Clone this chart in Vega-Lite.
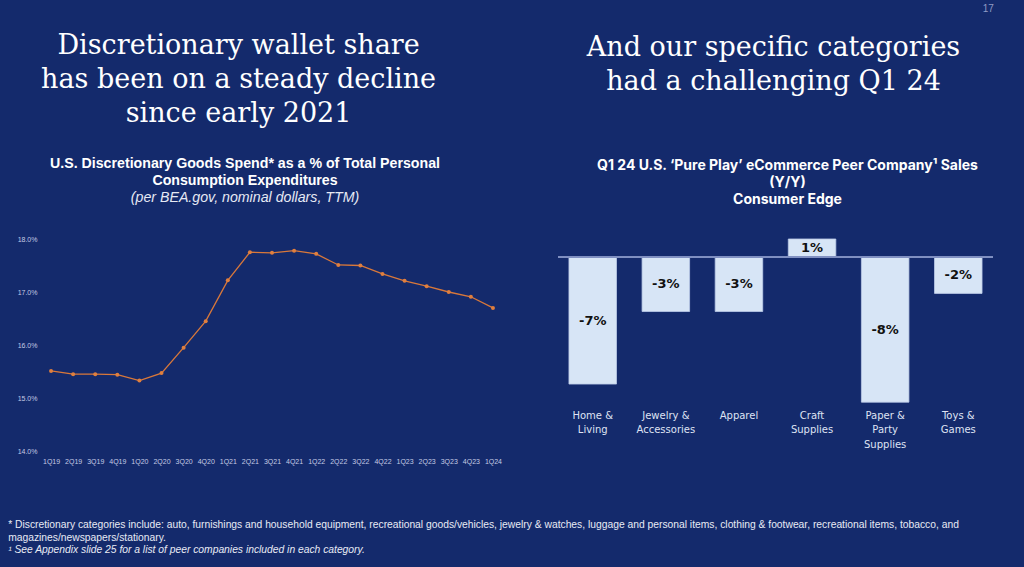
{
  "$schema": "https://vega.github.io/schema/vega-lite/v6.json",
  "background": "#142a6c",
  "padding": {"left": 8, "top": 3, "right": 30, "bottom": 15},
  "config": {
    "view": {"stroke": null},
    "axis": {"grid": false, "domain": false, "ticks": false}
  },
  "title": {
    "text": "17",
    "anchor": "end",
    "font": "Liberation Sans",
    "fontSize": 10,
    "fontWeight": "normal",
    "color": "#8f9ac4",
    "offset": 18
  },
  "vconcat": [
    {
      "title": {
        "text": [
          "* Discretionary categories include: auto, furnishings and household equipment, recreational goods/vehicles, jewelry & watches, luggage and personal items, clothing & footwear, recreational items, tobacco, and",
          "magazines/newspapers/stationary."
        ],
        "subtitle": "¹ See Appendix slide 25 for a list of peer companies included in each category.",
        "orient": "bottom",
        "anchor": "start",
        "font": "Liberation Sans",
        "fontSize": 10.3,
        "fontWeight": "normal",
        "color": "#e8ebf5",
        "lineHeight": 12.5,
        "subtitleFont": "Liberation Sans",
        "subtitleFontSize": 10.3,
        "subtitleFontStyle": "italic",
        "subtitleColor": "#e8ebf5",
        "subtitlePadding": 2.5,
        "offset": 56,
        "dx": -9
      },
      "spacing": 53,
      "hconcat": [
        {
          "title": {
            "text": ["Discretionary wallet share", "has been on a steady decline", "since early 2021"],
            "font": "DejaVu Serif",
            "fontSize": 27,
            "fontWeight": "normal",
            "color": "#ffffff",
            "lineHeight": 34,
            "anchor": "middle",
            "dx": -22,
            "offset": 29
          },
          "vconcat": [
            {
              "title": {
                "text": ["U.S. Discretionary Goods Spend* as a % of Total Personal", "Consumption Expenditures"],
                "subtitle": "(per BEA.gov, nominal dollars, TTM)",
                "font": "Liberation Sans",
                "fontSize": 14.2,
                "fontWeight": "bold",
                "color": "#ffffff",
                "lineHeight": 17,
                "subtitleFont": "Liberation Sans",
                "subtitleFontSize": 14.2,
                "subtitleFontStyle": "italic",
                "subtitleColor": "#e6e9f4",
                "subtitlePadding": 3,
                "anchor": "middle",
                "dx": -27,
                "offset": 30
              },
              "width": 464,
              "height": 212,
              "data": {
                "values": [
                  {"q": "1Q19", "v": 15.51},
                  {"q": "2Q19", "v": 15.45},
                  {"q": "3Q19", "v": 15.45},
                  {"q": "4Q19", "v": 15.44},
                  {"q": "1Q20", "v": 15.33},
                  {"q": "2Q20", "v": 15.47},
                  {"q": "3Q20", "v": 15.95},
                  {"q": "4Q20", "v": 16.45},
                  {"q": "1Q21", "v": 17.22},
                  {"q": "2Q21", "v": 17.75},
                  {"q": "3Q21", "v": 17.74},
                  {"q": "4Q21", "v": 17.78},
                  {"q": "1Q22", "v": 17.72},
                  {"q": "2Q22", "v": 17.51},
                  {"q": "3Q22", "v": 17.5},
                  {"q": "4Q22", "v": 17.34},
                  {"q": "1Q23", "v": 17.21},
                  {"q": "2Q23", "v": 17.11},
                  {"q": "3Q23", "v": 17.0},
                  {"q": "4Q23", "v": 16.91},
                  {"q": "1Q24", "v": 16.7}
                ]
              },
              "encoding": {
                "x": {
                  "field": "q",
                  "type": "ordinal",
                  "sort": null,
                  "scale": {"type": "point", "padding": 0.5},
                  "axis": {
                    "title": null,
                    "labelAngle": 0,
                    "labelFont": "Liberation Sans",
                    "labelFontSize": 7,
                    "labelColor": "#c5cbe4",
                    "labelPadding": 6
                  }
                },
                "y": {
                  "field": "v",
                  "type": "quantitative",
                  "scale": {"domain": [14, 18], "nice": false, "zero": false},
                  "axis": {
                    "title": null,
                    "values": [14, 15, 16, 17, 18],
                    "labelExpr": "format(datum.value, '.1f') + '%'",
                    "labelFont": "Liberation Sans",
                    "labelFontSize": 7,
                    "labelColor": "#c5cbe4",
                    "labelPadding": 3
                  }
                }
              },
              "layer": [
                {"mark": {"type": "line", "color": "#d9783a", "strokeWidth": 1.3}},
                {"mark": {"type": "point", "filled": true, "color": "#e07f3e", "size": 16, "opacity": 1}}
              ]
            }
          ]
        },
        {
          "title": {
            "text": ["And our specific categories", "had a challenging Q1 24", ""],
            "font": "DejaVu Serif",
            "fontSize": 27,
            "fontWeight": "normal",
            "color": "#ffffff",
            "lineHeight": 34,
            "anchor": "middle",
            "dx": -2,
            "offset": 29
          },
          "vconcat": [
            {
              "title": {
                "text": ["Q1 24 U.S. ‘Pure Play’ eCommerce Peer Company¹ Sales", "(Y/Y)", "Consumer Edge"],
                "font": "Inter",
                "fontSize": 14,
                "fontWeight": "bold",
                "color": "#ffffff",
                "lineHeight": 17,
                "anchor": "middle",
                "dx": 12,
                "offset": 32
              },
              "width": 435,
              "height": 165,
              "data": {
                "values": [
                  {"cat": "Home &|Living", "value": -7.0, "label": "-7%"},
                  {"cat": "Jewelry &|Accessories", "value": -3.0, "label": "-3%"},
                  {"cat": "Apparel", "value": -3.0, "label": "-3%"},
                  {"cat": "Craft|Supplies", "value": 1.0, "label": "1%"},
                  {"cat": "Paper &|Party|Supplies", "value": -8.0, "label": "-8%"},
                  {"cat": "Toys &|Games", "value": -2.0, "label": "-2%"}
                ]
              },
              "transform": [{"calculate": "datum.value / 2", "as": "mid"}],
              "layer": [
                {
                  "mark": {"type": "bar", "fill": "#d7e5f6", "stroke": "#bccbe8", "strokeWidth": 0.8},
                  "encoding": {
                    "x": {
                      "field": "cat",
                      "type": "nominal",
                      "sort": null,
                      "scale": {"paddingInner": 0.35, "paddingOuter": 0.15},
                      "axis": {
                        "title": null,
                        "orient": "bottom",
                        "labelAngle": 0,
                        "labelExpr": "split(datum.label, '|')",
                        "labelFont": "DejaVu Sans",
                        "labelFontSize": 10,
                        "labelLineHeight": 14.5,
                        "labelColor": "#dfe3f3",
                        "labelPadding": 6,
                        "labelBaseline": "top"
                      }
                    },
                    "y": {
                      "field": "value",
                      "type": "quantitative",
                      "scale": {"domain": [-8.1, 1.0], "nice": false},
                      "axis": null
                    }
                  }
                },
                {
                  "mark": {"type": "rule", "color": "#8090c2", "strokeWidth": 1.5},
                  "encoding": {"y": {"datum": 0, "type": "quantitative"}}
                },
                {
                  "mark": {"type": "text", "font": "DejaVu Sans", "fontSize": 13, "fontWeight": "bold", "color": "#111111", "baseline": "middle"},
                  "encoding": {
                    "x": {"field": "cat", "type": "nominal", "sort": null},
                    "y": {"field": "mid", "type": "quantitative"},
                    "text": {"field": "label"}
                  }
                }
              ]
            }
          ]
        }
      ]
    }
  ]
}
